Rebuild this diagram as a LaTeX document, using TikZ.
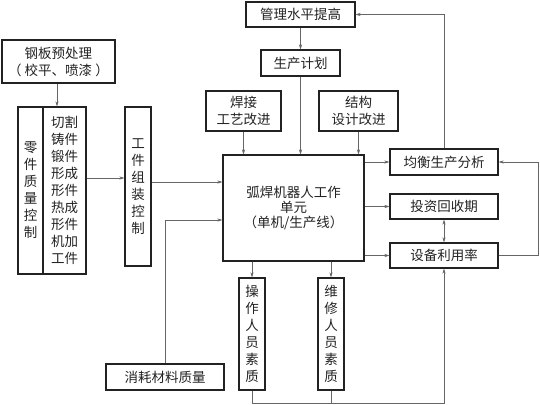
\documentclass[tikz,border=0pt]{standalone}
\usepackage{fontspec}
\usepackage{tikz}
\usetikzlibrary{arrows.meta, positioning, calc}
\newfontfamily\cjk{Noto Sans CJK SC}
\definecolor{boxblack}{HTML}{222222}
\definecolor{linegray}{HTML}{666666}

\begin{document}
\begin{tikzpicture}[
    x=1pt, y=-1pt,
    >={Stealth[length=5pt, width=3.2pt]},
    box/.style={draw=boxblack, line width=1.3pt, inner sep=0pt, minimum width=#1, align=center, text=boxblack, font=\cjk\fontsize{13.5}{17}\selectfont},
    vbox/.style={box=26pt, minimum height=#1},
    arrow/.style={->, line width=0.6pt, color=linegray},
    link/.style={line width=0.6pt, color=linegray},
]
\useasboundingbox (0,0) rectangle (540,404);

% Input side
\node[box=113pt, minimum height=43pt] (pre) at (58.5,61.5) {钢板预处理\\（ 校平、喷漆 ）};
\node[box=25pt, minimum height=167pt] (quality) at (30.5,190.5) {零\\件\\质\\量\\控\\制};
\node[box=43pt, minimum height=167pt] (parts) at (64.5,190.5) {切割\\铸件\\锻件\\形成\\形件\\热成\\形件\\机加\\工件};
\node[vbox=159pt] (assem) at (138,186.5) {工\\件\\组\\装\\控\\制};
\node[box=118pt, minimum height=26pt] (consum) at (165,377) {消耗材料质量};

% Top chain
\node[box=109pt, minimum height=25pt] (mgmt) at (300.5,14.5) {管理水平提高};
\node[box=79pt, minimum height=26pt] (plan) at (300.5,63) {生产计划};
\node[box=75pt, minimum height=40pt] (weld) at (243.5,111) {焊接\\工艺改进};
\node[box=79pt, minimum height=40pt] (design) at (358.5,111) {结构\\设计改进};

% Robot cell
\node[box=141pt, minimum height=106pt, font=\cjk\fontsize{13.5}{15}\selectfont] (cell) at (293.5,208) {弧焊机器人工作\\单元\\（单机/生产线）};

% Results
\node[box=108pt, minimum height=26pt] (balance) at (444,162) {均衡生产分析};
\node[box=108pt, minimum height=25pt] (invest) at (444,206.5) {投资回收期};
\node[box=108pt, minimum height=25pt] (util) at (444,255.5) {设备利用率};

% Staff
\node[vbox=112pt] (operator) at (252,334) {操\\作\\人\\员\\素\\质};
\node[vbox=112pt] (maint) at (331,334) {维\\修\\人\\员\\素\\质};

% Inputs into the cell
\coordinate (cellin1) at ([yshift=26pt]cell.west);
\coordinate (cellin2) at ([yshift=-12pt]cell.west);
\draw[arrow] (pre.south -| 57,0) -- (57,0 |- parts.north);
\draw[arrow] ([yshift=12.5pt]parts.east) -- ([yshift=12.5pt]parts.east -| assem.west);
\draw[arrow] (assem.east |- cellin1) -- (cellin1);
\draw[arrow] (consum.north) |- (cellin2);
\draw[arrow] (mgmt) -- (plan);
\draw[arrow] (plan.south) -- (plan.south |- cell.north);
\draw[arrow] (weld.south) -- (weld.south |- cell.north);
\draw[arrow] (design.south) -- (design.south |- cell.north);

% Outputs
\draw[arrow] (cell.east |- balance) -- (balance.west);
\draw[arrow] (cell.east |- invest) -- (invest.west);
\draw[arrow] (cell.east |- util) -- (util.west);
\draw[arrow, <->] (invest) -- (util);
\draw[arrow] (operator.north |- cell.south) -- (operator.north);
\draw[arrow] (maint.north |- cell.south) -- (maint.north);

% Feedback lines
\draw[arrow] (balance.north) |- (mgmt.east);
\draw[arrow] (util.east) -- ++(40,0) |- (balance.east);
\draw[arrow] (operator.south) -- ++(0,13) -| (util.south);
\draw[link] (maint.south) -- ++(0,13);

\end{tikzpicture}
\end{document}
